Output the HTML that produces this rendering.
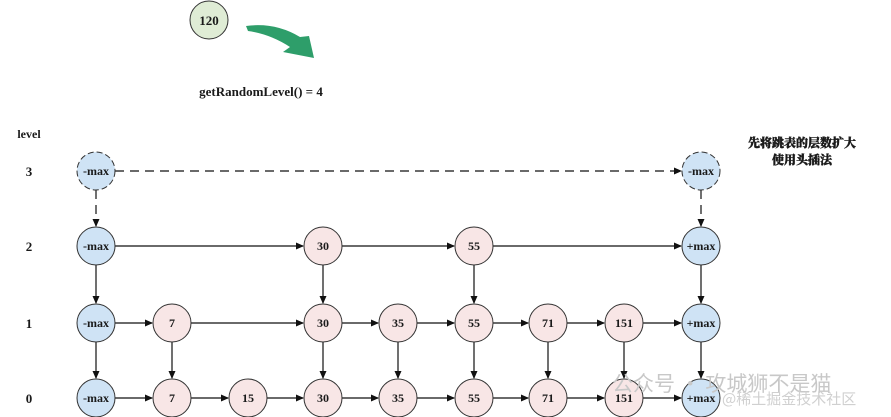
<!DOCTYPE html>
<html><head><meta charset="utf-8"><style>
html,body{margin:0;padding:0;background:#fff;}
svg{display:block;}
text{font-family:"Liberation Serif","Noto Serif CJK SC",serif;font-weight:bold;fill:#1a1a1a;}
</style></head><body>
<svg width="891" height="417" viewBox="0 0 891 417" xmlns="http://www.w3.org/2000/svg">
<defs>
<marker id="a" markerWidth="8" markerHeight="8" refX="7" refY="4" orient="auto" markerUnits="userSpaceOnUse">
<path d="M0,0.5 L8,4 L0,7.5 Z" fill="#111"/></marker>
</defs>
<circle cx="209" cy="20" r="19" fill="#dfecd5" stroke="#333" stroke-width="1"/>
<text x="209" y="25" font-size="13" text-anchor="middle">120</text>
<path d="M246,26 Q275,22 300,37 L309,36 L314,58 L283,52 L290,47 Q270,34 248,31 Z" fill="#2e9e6a"/>
<text x="261" y="96" font-size="13" text-anchor="middle">getRandomLevel() = 4</text>
<text x="29" y="138" font-size="12" text-anchor="middle">level</text>
<text x="29" y="176" font-size="13" text-anchor="middle">3</text>
<text x="29" y="251" font-size="13" text-anchor="middle">2</text>
<text x="29" y="328" font-size="13" text-anchor="middle">1</text>
<text x="29" y="403" font-size="13" text-anchor="middle">0</text>
<text x="802" y="147" font-size="12" text-anchor="middle" style="font-weight:900;stroke:#1a1a1a;stroke-width:0.4">先将跳表的层数扩大</text>
<text x="802" y="164" font-size="12" text-anchor="middle" style="font-weight:900;stroke:#1a1a1a;stroke-width:0.4">使用头插法</text>
<g stroke="#111" stroke-width="1.2" fill="none">
<line x1="115" y1="171" x2="681" y2="171" stroke-dasharray="9,6" marker-end="url(#a)"/>
<line x1="96" y1="190" x2="96" y2="226" stroke-dasharray="9,6" marker-end="url(#a)"/>
<line x1="701" y1="190" x2="701" y2="226" stroke-dasharray="9,6" marker-end="url(#a)"/>
<line x1="115" y1="246" x2="303" y2="246" marker-end="url(#a)"/>
<line x1="342" y1="246" x2="454" y2="246" marker-end="url(#a)"/>
<line x1="493" y1="246" x2="681" y2="246" marker-end="url(#a)"/>
<line x1="96" y1="265" x2="96" y2="303" marker-end="url(#a)"/>
<line x1="323" y1="265" x2="323" y2="303" marker-end="url(#a)"/>
<line x1="474" y1="265" x2="474" y2="303" marker-end="url(#a)"/>
<line x1="701" y1="265" x2="701" y2="303" marker-end="url(#a)"/>
<line x1="115" y1="323" x2="152" y2="323" marker-end="url(#a)"/>
<line x1="191" y1="323" x2="303" y2="323" marker-end="url(#a)"/>
<line x1="342" y1="323" x2="378" y2="323" marker-end="url(#a)"/>
<line x1="417" y1="323" x2="454" y2="323" marker-end="url(#a)"/>
<line x1="493" y1="323" x2="528" y2="323" marker-end="url(#a)"/>
<line x1="567" y1="323" x2="604" y2="323" marker-end="url(#a)"/>
<line x1="643" y1="323" x2="681" y2="323" marker-end="url(#a)"/>
<line x1="96" y1="342" x2="96" y2="378" marker-end="url(#a)"/>
<line x1="172" y1="342" x2="172" y2="378" marker-end="url(#a)"/>
<line x1="323" y1="342" x2="323" y2="378" marker-end="url(#a)"/>
<line x1="398" y1="342" x2="398" y2="378" marker-end="url(#a)"/>
<line x1="474" y1="342" x2="474" y2="378" marker-end="url(#a)"/>
<line x1="548" y1="342" x2="548" y2="378" marker-end="url(#a)"/>
<line x1="624" y1="342" x2="624" y2="378" marker-end="url(#a)"/>
<line x1="701" y1="342" x2="701" y2="378" marker-end="url(#a)"/>
<line x1="115" y1="398" x2="152" y2="398" marker-end="url(#a)"/>
<line x1="191" y1="398" x2="228" y2="398" marker-end="url(#a)"/>
<line x1="267" y1="398" x2="303" y2="398" marker-end="url(#a)"/>
<line x1="342" y1="398" x2="378" y2="398" marker-end="url(#a)"/>
<line x1="417" y1="398" x2="454" y2="398" marker-end="url(#a)"/>
<line x1="493" y1="398" x2="528" y2="398" marker-end="url(#a)"/>
<line x1="567" y1="398" x2="604" y2="398" marker-end="url(#a)"/>
<line x1="643" y1="398" x2="681" y2="398" marker-end="url(#a)"/>
</g>
<g font-size="12" text-anchor="middle">
<circle cx="96" cy="171" r="19" fill="#cfe3f5" stroke="#333" stroke-dasharray="6,3"/><text x="96" y="175">-max</text>
<circle cx="701" cy="171" r="19" fill="#cfe3f5" stroke="#333" stroke-dasharray="6,3"/><text x="701" y="175">-max</text>
<circle cx="96" cy="246" r="19" fill="#cfe3f5" stroke="#333"/><text x="96" y="250">-max</text>
<circle cx="323" cy="246" r="19" fill="#f8e6e6" stroke="#333"/><text x="323" y="250">30</text>
<circle cx="474" cy="246" r="19" fill="#f8e6e6" stroke="#333"/><text x="474" y="250">55</text>
<circle cx="701" cy="246" r="19" fill="#cfe3f5" stroke="#333"/><text x="701" y="250">+max</text>
<circle cx="96" cy="323" r="19" fill="#cfe3f5" stroke="#333"/><text x="96" y="327">-max</text>
<circle cx="172" cy="323" r="19" fill="#f8e6e6" stroke="#333"/><text x="172" y="327">7</text>
<circle cx="323" cy="323" r="19" fill="#f8e6e6" stroke="#333"/><text x="323" y="327">30</text>
<circle cx="398" cy="323" r="19" fill="#f8e6e6" stroke="#333"/><text x="398" y="327">35</text>
<circle cx="474" cy="323" r="19" fill="#f8e6e6" stroke="#333"/><text x="474" y="327">55</text>
<circle cx="548" cy="323" r="19" fill="#f8e6e6" stroke="#333"/><text x="548" y="327">71</text>
<circle cx="624" cy="323" r="19" fill="#f8e6e6" stroke="#333"/><text x="624" y="327">151</text>
<circle cx="701" cy="323" r="19" fill="#cfe3f5" stroke="#333"/><text x="701" y="327">+max</text>
<circle cx="96" cy="398" r="19" fill="#cfe3f5" stroke="#333"/><text x="96" y="402">-max</text>
<circle cx="172" cy="398" r="19" fill="#f8e6e6" stroke="#333"/><text x="172" y="402">7</text>
<circle cx="248" cy="398" r="19" fill="#f8e6e6" stroke="#333"/><text x="248" y="402">15</text>
<circle cx="323" cy="398" r="19" fill="#f8e6e6" stroke="#333"/><text x="323" y="402">30</text>
<circle cx="398" cy="398" r="19" fill="#f8e6e6" stroke="#333"/><text x="398" y="402">35</text>
<circle cx="474" cy="398" r="19" fill="#f8e6e6" stroke="#333"/><text x="474" y="402">55</text>
<circle cx="548" cy="398" r="19" fill="#f8e6e6" stroke="#333"/><text x="548" y="402">71</text>
<circle cx="624" cy="398" r="19" fill="#f8e6e6" stroke="#333"/><text x="624" y="402">151</text>
<circle cx="701" cy="398" r="19" fill="#cfe3f5" stroke="#333"/><text x="701" y="402">+max</text>
</g>
<text x="612" y="391" font-size="21" style="fill:#c8c8c8;font-weight:normal;font-family:'Noto Sans CJK SC',sans-serif">公众号 · 攻城狮不是猫</text>
<text x="722" y="404" font-size="15" style="fill:#d0d0d0;font-weight:normal;font-family:'Noto Sans CJK SC',sans-serif">@稀土掘金技术社区</text>
</svg>
</body></html>
